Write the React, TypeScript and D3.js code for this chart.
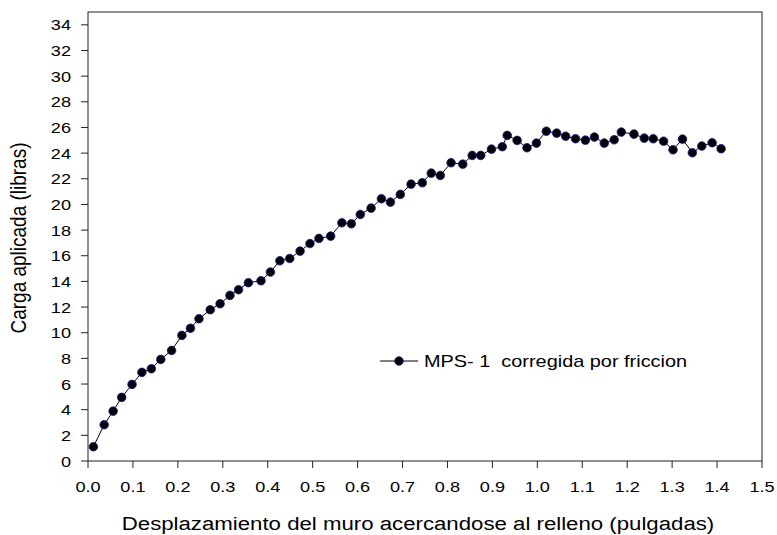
import React from "react";
import * as d3 from "d3";

// Load–displacement test record (MPS-1, friction-corrected)
const displacement = [
  0.012, 0.036, 0.056, 0.075, 0.098, 0.12, 0.141, 0.162, 0.186, 0.209,
  0.228, 0.247, 0.272, 0.294, 0.316, 0.335, 0.357, 0.385, 0.406, 0.427,
  0.449, 0.472, 0.494, 0.514, 0.54, 0.565, 0.586, 0.606, 0.63, 0.653,
  0.673, 0.695, 0.719, 0.744, 0.764, 0.784, 0.808, 0.834, 0.855, 0.874,
  0.898, 0.922, 0.933, 0.955, 0.977, 0.998, 1.02, 1.043, 1.063, 1.085,
  1.107, 1.127, 1.149, 1.171, 1.187, 1.215, 1.238, 1.258, 1.281, 1.302,
  1.323, 1.345, 1.366, 1.389, 1.409,
];
const load = [
  1.11, 2.83, 3.89, 4.96, 5.97, 6.91, 7.19, 7.92, 8.62, 9.79,
  10.35, 11.09, 11.79, 12.26, 12.91, 13.35, 13.9, 14.05, 14.73, 15.61,
  15.79, 16.36, 16.95, 17.35, 17.53, 18.57, 18.49, 19.22, 19.71, 20.44,
  20.18, 20.78, 21.58, 21.69, 22.44, 22.26, 23.25, 23.14, 23.82, 23.82,
  24.31, 24.5, 25.38, 24.99, 24.42, 24.78, 25.71, 25.56, 25.32, 25.12,
  25.01, 25.25, 24.78, 25.04, 25.64, 25.48, 25.17, 25.12, 24.93, 24.26,
  25.09, 24.03, 24.55, 24.81, 24.34,
];
const xTicks = d3.range(0, 16).map((i) => i / 10);
const yTicks = d3.range(0, 35, 2);
const seriesName = "MPS- 1  corregida por friccion";
const xTitle = "Desplazamiento del muro acercandose al relleno (pulgadas)";
const yTitle = "Carga aplicada (libras)";

const W = 777;
const H = 535;
const left = 88;
const right = 762;
const top = 12;
const bottom = 461;
const font = "'Liberation Sans', Arial, sans-serif";
const STRETCH = 1.17;

type TProps = {
  x: number;
  y: number;
  size: number;
  anchor?: "start" | "middle" | "end";
  dy?: string;
  children: React.ReactNode;
};

// Text set slightly wide, as in the original plotting package output
function WideText({ x, y, size, anchor = "start", dy, children }: TProps) {
  return (
    <text
      transform={`translate(${x},${y}) scale(${STRETCH},1)`}
      textAnchor={anchor}
      fontSize={size}
      dy={dy}
      fill="#000"
      style={{ whiteSpace: "pre" }}
    >
      {children}
    </text>
  );
}

export default function App() {
  const x = d3.scaleLinear().domain([0, 1.5]).range([left, right]);
  const y = d3.scaleLinear().domain([0, 35]).range([bottom, top]);
  const pts = displacement.map((d, i) => [d, load[i]] as [number, number]);
  const line = d3
    .line<[number, number]>()
    .x((d) => x(d[0]))
    .y((d) => y(d[1]));

  const legX = 380;
  const legY = 361;

  return (
    <svg
      width={W}
      height={H}
      style={{ position: "absolute", left: 0, top: 0, background: "#fff" }}
      fontFamily={font}
    >
      <rect x={0} y={0} width={W} height={H} fill="#fff" />
      {/* plot frame */}
      <rect
        x={left}
        y={top}
        width={right - left}
        height={bottom - top}
        fill="none"
        stroke="#222"
        strokeWidth={1}
      />
      {/* y axis */}
      {yTicks.map((t) => (
        <g key={"y" + t}>
          <line x1={left - 7} x2={left} y1={y(t)} y2={y(t)} stroke="#222" />
          <WideText x={left - 17} y={y(t)} size={15.5} anchor="end" dy="0.36em">
            {t}
          </WideText>
        </g>
      ))}
      {/* x axis */}
      {xTicks.map((t) => (
        <g key={"x" + t}>
          <line x1={x(t)} x2={x(t)} y1={bottom} y2={bottom + 7} stroke="#222" />
          <WideText x={x(t)} y={bottom + 31} size={15.5} anchor="middle">
            {d3.format(".1f")(t)}
          </WideText>
        </g>
      ))}
      <WideText x={418} y={530} size={19} anchor="middle">
        {xTitle}
      </WideText>
      <text
        transform={`translate(26, 238) rotate(-90) scale(1, ${STRETCH})`}
        textAnchor="middle"
        fontSize={19}
        fill="#000"
      >
        {yTitle}
      </text>
      {/* series */}
      <path d={line(pts) ?? ""} fill="none" stroke="#000" strokeWidth={1} />
      {pts.map((d, i) => (
        <circle
          key={i}
          cx={x(d[0])}
          cy={y(d[1])}
          r={4.3}
          fill="#000008"
          stroke="#1a1a80"
          strokeWidth={0.8}
        />
      ))}
      {/* legend */}
      <line x1={legX} x2={legX + 38} y1={legY} y2={legY} stroke="#000" />
      <circle
        cx={legX + 19}
        cy={legY}
        r={4.3}
        fill="#000008"
        stroke="#1a1a80"
        strokeWidth={0.8}
      />
      <WideText x={legX + 44} y={legY} size={17} dy="0.36em">
        {seriesName}
      </WideText>
    </svg>
  );
}
